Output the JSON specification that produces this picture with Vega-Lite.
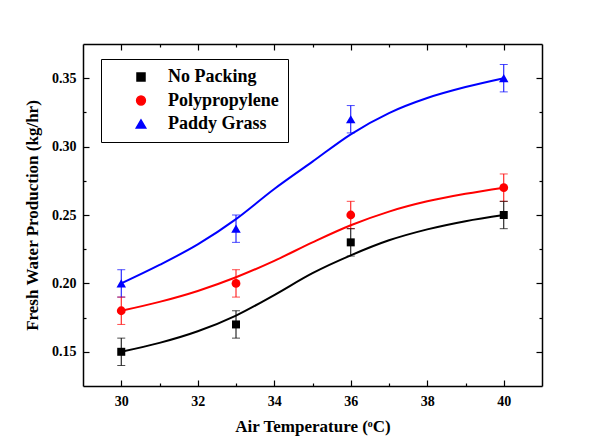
{
  "$schema": "https://vega.github.io/schema/vega-lite/v6.json",
  "width": 459,
  "height": 342,
  "autosize": {"type": "none"},
  "padding": {"left": 83, "top": 44, "right": 53, "bottom": 52},
  "background": "white",
  "config": {
    "view": {"stroke": null},
    "font": "Liberation Serif",
    "axis": {
      "domainColor": "black", "domainWidth": 1.5, "tickColor": "black", "tickWidth": 1.2,
      "grid": false, "labelFont": "Liberation Serif", "labelFontWeight": "bold", "labelFontSize": 14,
      "labelColor": "black", "titleFont": "Liberation Serif", "titleFontWeight": "bold",
      "titleFontSize": 17, "titleColor": "black"
    }
  },
  "datasets": {
    "pts": [
      {"s": "No Packing", "x": 30, "y": 0.15, "lo": 0.14, "hi": 0.16},
      {"s": "No Packing", "x": 33, "y": 0.17, "lo": 0.16, "hi": 0.18},
      {"s": "No Packing", "x": 36, "y": 0.23, "lo": 0.22, "hi": 0.24},
      {"s": "No Packing", "x": 40, "y": 0.25, "lo": 0.24, "hi": 0.26},
      {"s": "Polypropylene", "x": 30, "y": 0.18, "lo": 0.17, "hi": 0.19},
      {"s": "Polypropylene", "x": 33, "y": 0.20, "lo": 0.19, "hi": 0.21},
      {"s": "Polypropylene", "x": 36, "y": 0.25, "lo": 0.24, "hi": 0.26},
      {"s": "Polypropylene", "x": 40, "y": 0.27, "lo": 0.26, "hi": 0.28},
      {"s": "Paddy Grass", "x": 30, "y": 0.20, "lo": 0.19, "hi": 0.21},
      {"s": "Paddy Grass", "x": 33, "y": 0.24, "lo": 0.23, "hi": 0.25},
      {"s": "Paddy Grass", "x": 36, "y": 0.32, "lo": 0.31, "hi": 0.33},
      {"s": "Paddy Grass", "x": 40, "y": 0.35, "lo": 0.34, "hi": 0.36}
    ],
    "fit": [
      {"s": "No Packing", "x": 30, "y": 0.150},
      {"s": "No Packing", "x": 31, "y": 0.1565},
      {"s": "No Packing", "x": 32, "y": 0.1650},
      {"s": "No Packing", "x": 33, "y": 0.1765},
      {"s": "No Packing", "x": 34, "y": 0.1915},
      {"s": "No Packing", "x": 35, "y": 0.2075},
      {"s": "No Packing", "x": 36, "y": 0.2205},
      {"s": "No Packing", "x": 37, "y": 0.2315},
      {"s": "No Packing", "x": 38, "y": 0.2395},
      {"s": "No Packing", "x": 39, "y": 0.2455},
      {"s": "No Packing", "x": 40, "y": 0.250},
      {"s": "Polypropylene", "x": 30, "y": 0.180},
      {"s": "Polypropylene", "x": 31, "y": 0.1865},
      {"s": "Polypropylene", "x": 32, "y": 0.1945},
      {"s": "Polypropylene", "x": 33, "y": 0.2045},
      {"s": "Polypropylene", "x": 34, "y": 0.2165},
      {"s": "Polypropylene", "x": 35, "y": 0.2300},
      {"s": "Polypropylene", "x": 36, "y": 0.2425},
      {"s": "Polypropylene", "x": 37, "y": 0.2525},
      {"s": "Polypropylene", "x": 38, "y": 0.2600},
      {"s": "Polypropylene", "x": 39, "y": 0.2655},
      {"s": "Polypropylene", "x": 40, "y": 0.270},
      {"s": "Paddy Grass", "x": 30, "y": 0.200},
      {"s": "Paddy Grass", "x": 31, "y": 0.2135},
      {"s": "Paddy Grass", "x": 32, "y": 0.2285},
      {"s": "Paddy Grass", "x": 33, "y": 0.2470},
      {"s": "Paddy Grass", "x": 34, "y": 0.2690},
      {"s": "Paddy Grass", "x": 35, "y": 0.2890},
      {"s": "Paddy Grass", "x": 36, "y": 0.3090},
      {"s": "Paddy Grass", "x": 37, "y": 0.3245},
      {"s": "Paddy Grass", "x": 38, "y": 0.3355},
      {"s": "Paddy Grass", "x": 39, "y": 0.3435},
      {"s": "Paddy Grass", "x": 40, "y": 0.350}
    ]
  },
  "layer": [
    {
      "data": {"name": "fit"},
      "mark": {"type": "line", "strokeWidth": 2, "interpolate": "monotone"},
      "encoding": {
        "x": {
          "field": "x", "type": "quantitative",
          "scale": {"domain": [29, 41], "nice": false, "zero": false},
          "axis": {
            "orient": "bottom", "title": "Air Temperature (ᵒC)",
            "values": [30, 32, 34, 36, 38, 40],
            "tickSize": -6, "labelPadding": 14, "titlePadding": 10
          }
        },
        "y": {
          "field": "y", "type": "quantitative",
          "scale": {"domain": [0.125, 0.375], "nice": false, "zero": false},
          "axis": {
            "orient": "left", "title": "Fresh Water Production (kg/hr)",
            "values": [0.15, 0.2, 0.25, 0.3, 0.35], "format": ".2f",
            "tickSize": -6, "labelPadding": 13, "titlePadding": 10
          }
        },
        "color": {
          "field": "s", "type": "nominal",
          "scale": {"domain": ["No Packing", "Polypropylene", "Paddy Grass"], "range": ["#000000", "#ff0000", "#0000ff"]},
          "legend": {
            "orient": "none", "legendX": 18, "legendY": 15, "title": null,
            "strokeColor": "black", "padding": 9, "fillColor": "white",
            "labelFont": "Liberation Serif", "labelFontSize": 18, "labelFontWeight": "bold", "labelColor": "black",
            "symbolSize": 100, "symbolOffset": 22, "labelOffset": 18, "rowPadding": 5.5
          }
        }
      }
    },
    {
      "data": {"name": "pts"},
      "mark": {"type": "rule", "strokeWidth": 1},
      "encoding": {
        "x": {
          "field": "x", "type": "quantitative",
          "axis": {"orient": "top", "title": null, "labels": false, "values": [30, 32, 34, 36, 38, 40], "tickSize": -6}
        },
        "y": {
          "field": "lo", "type": "quantitative",
          "axis": {"orient": "right", "title": null, "labels": false, "values": [0.15, 0.2, 0.25, 0.3, 0.35], "tickSize": -6}
        },
        "y2": {"field": "hi"},
        "color": {"field": "s", "type": "nominal", "legend": null}
      }
    },
    {
      "data": {"name": "pts"},
      "mark": {"type": "tick", "orient": "horizontal", "size": 8, "thickness": 1},
      "encoding": {
        "x": {
          "field": "x", "type": "quantitative",
          "axis": {"orient": "bottom", "title": null, "labels": false, "domain": false, "values": [31, 33, 35, 37, 39], "tickSize": -3}
        },
        "y": {
          "field": "lo", "type": "quantitative",
          "axis": {"orient": "left", "title": null, "labels": false, "domain": false, "values": [0.175, 0.225, 0.275, 0.325], "tickSize": -3}
        },
        "color": {"field": "s", "type": "nominal", "legend": null}
      }
    },
    {
      "data": {"name": "pts"},
      "mark": {"type": "tick", "orient": "horizontal", "size": 8, "thickness": 1},
      "encoding": {
        "x": {
          "field": "x", "type": "quantitative",
          "axis": {"orient": "top", "title": null, "labels": false, "domain": false, "values": [31, 33, 35, 37, 39], "tickSize": -3}
        },
        "y": {
          "field": "hi", "type": "quantitative",
          "axis": {"orient": "right", "title": null, "labels": false, "domain": false, "values": [0.175, 0.225, 0.275, 0.325], "tickSize": -3}
        },
        "color": {"field": "s", "type": "nominal", "legend": null}
      }
    },
    {
      "data": {"name": "pts"},
      "mark": {"type": "point", "filled": true, "opacity": 1},
      "encoding": {
        "x": {"field": "x", "type": "quantitative", "axis": null},
        "y": {"field": "y", "type": "quantitative", "axis": null},
        "color": {"field": "s", "type": "nominal", "legend": null},
        "shape": {
          "field": "s", "type": "nominal",
          "scale": {"domain": ["No Packing", "Polypropylene", "Paddy Grass"], "range": ["square", "circle", "triangle-up"]},
          "legend": null
        },
        "size": {
          "field": "s", "type": "nominal",
          "scale": {"domain": ["No Packing", "Polypropylene", "Paddy Grass"], "range": [64, 90, 121]},
          "legend": null
        }
      }
    }
  ],
  "resolve": {"axis": {"x": "independent", "y": "independent"}}
}
